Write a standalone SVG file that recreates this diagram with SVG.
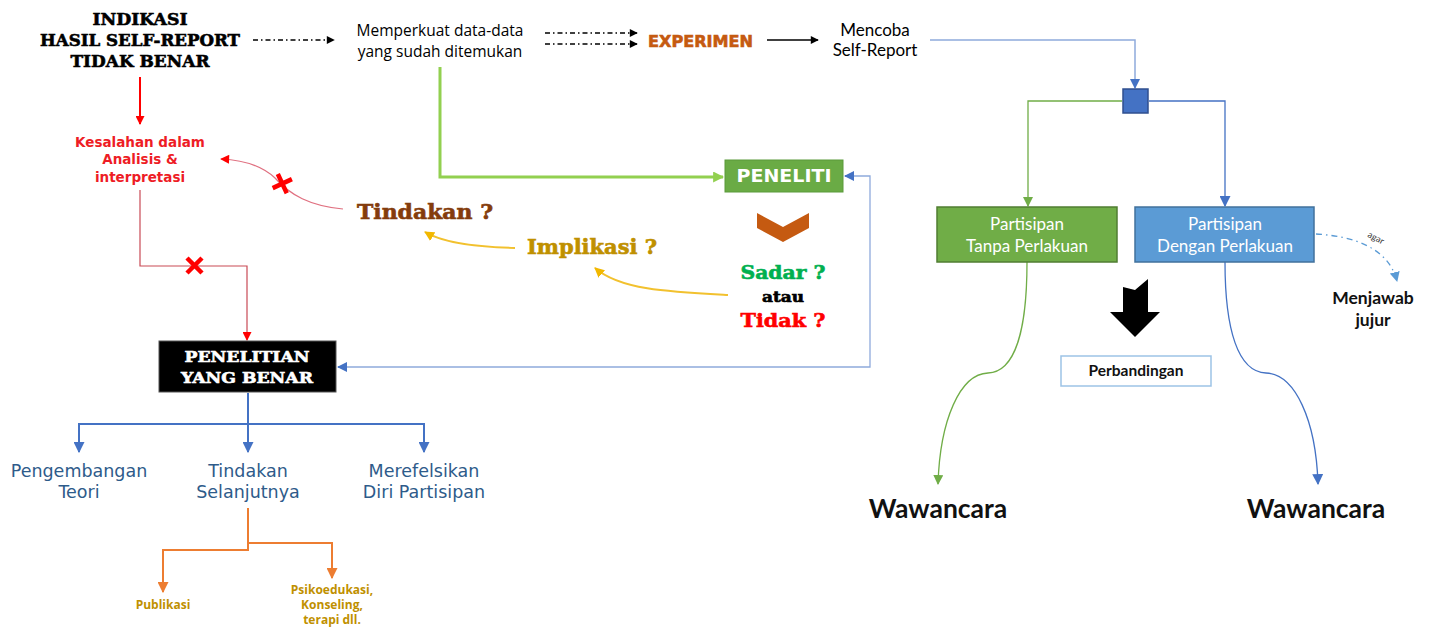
<svg xmlns="http://www.w3.org/2000/svg" width="1451" height="627" viewBox="0 0 1451 627">
<style>
.hs{font-family:"DejaVu Serif","Liberation Serif",serif;font-weight:bold;stroke-width:0.6;}
.sans{font-family:"Open Sans","Liberation Sans",sans-serif;}
.lato{font-family:Lato,"Open Sans",sans-serif;}
.dv{font-family:"DejaVu Sans","Liberation Sans",sans-serif;}
.c{text-anchor:middle;}
.tree{font-family:"DejaVu Sans","Liberation Sans",sans-serif;font-size:17.5px;fill:#2e5b8a;text-anchor:middle;}
.sub{font-family:"Open Sans","Liberation Sans",sans-serif;font-weight:bold;font-size:12px;fill:#bf9000;text-anchor:middle;}
.box{font-family:Lato,"Open Sans",sans-serif;font-size:17px;fill:#ffffff;text-anchor:middle;}
</style>
<defs>
<marker id="aK" viewBox="0 0 10 10" refX="9" refY="5" markerWidth="9" markerHeight="8" markerUnits="userSpaceOnUse" orient="auto"><path d="M0,0 L10,5 L0,10 z" fill="#000"/></marker>
<marker id="aR" viewBox="0 0 10 10" refX="9" refY="5" markerWidth="10" markerHeight="9" markerUnits="userSpaceOnUse" orient="auto"><path d="M0,0 L10,5 L0,10 z" fill="#ff0000"/></marker>
<marker id="aGL" viewBox="0 0 10 10" refX="9" refY="5" markerWidth="11" markerHeight="11" markerUnits="userSpaceOnUse" orient="auto"><path d="M0,0 L10,5 L0,10 z" fill="#92d050"/></marker>
<marker id="aLB" viewBox="0 0 10 10" refX="9" refY="5" markerWidth="10" markerHeight="10" markerUnits="userSpaceOnUse" orient="auto"><path d="M0,0 L10,5 L0,10 z" fill="#4472c4"/></marker>
<marker id="aB" viewBox="0 0 10 10" refX="9" refY="5" markerWidth="11" markerHeight="11" markerUnits="userSpaceOnUse" orient="auto"><path d="M0,0 L10,5 L0,10 z" fill="#4472c4"/></marker>
<marker id="aO" viewBox="0 0 10 10" refX="9" refY="5" markerWidth="11" markerHeight="11" markerUnits="userSpaceOnUse" orient="auto"><path d="M0,0 L10,5 L0,10 z" fill="#ed7d31"/></marker>
<marker id="aY" viewBox="0 0 10 10" refX="9" refY="5" markerWidth="10" markerHeight="10" markerUnits="userSpaceOnUse" orient="auto"><path d="M0,0 L10,5 L0,10 z" fill="#f2b800"/></marker>
<marker id="aG" viewBox="0 0 10 10" refX="9" refY="5" markerWidth="10" markerHeight="10" markerUnits="userSpaceOnUse" orient="auto"><path d="M0,0 L10,5 L0,10 z" fill="#70ad47"/></marker>
<marker id="aS" viewBox="0 0 10 10" refX="9" refY="5" markerWidth="10" markerHeight="10" markerUnits="userSpaceOnUse" orient="auto"><path d="M0,0 L10,5 L0,10 z" fill="#5b9bd5"/></marker>
</defs>
<rect width="1451" height="627" fill="#ffffff"/>

<g id="connectors" fill="none">
  <path d="M253,40 L334,40" stroke="#000" stroke-width="1.3" stroke-dasharray="5 3 1.5 3" marker-end="url(#aK)"/>
  <path d="M545,33 L637,33" stroke="#000" stroke-width="1.3" stroke-dasharray="5 3 1.5 3" marker-end="url(#aK)"/>
  <path d="M545,44 L637,44" stroke="#000" stroke-width="1.3" stroke-dasharray="5 3 1.5 3" marker-end="url(#aK)"/>
  <path d="M767,40 L818,40" stroke="#000" stroke-width="1.3" marker-end="url(#aK)"/>
  <path d="M930,40 L1135,40 L1135,88" stroke="#8faadc" stroke-width="1.5" marker-end="url(#aLB)"/>
  <path d="M1122,101 L1028,101 L1028,206" stroke="#70ad47" stroke-width="1.3" marker-end="url(#aG)"/>
  <path d="M1149,101 L1225,101 L1225,206" stroke="#4472c4" stroke-width="1.3" marker-end="url(#aB)"/>
  <path d="M1027,262 C1027,330 1015,372 988,373 C960,374 940,420 938,484" stroke="#70ad47" stroke-width="1.3" marker-end="url(#aG)"/>
  <path d="M1225,262 C1225,330 1238,372 1266,373 C1295,374 1316,420 1318,484" stroke="#4472c4" stroke-width="1.3" marker-end="url(#aB)"/>
  <path d="M1316,234 C1350,236 1388,246 1397,281" stroke="#5b9bd5" stroke-width="1.3" stroke-dasharray="6 4 1.5 4" marker-end="url(#aS)"/>
  <path d="M440,67 L440,177 L723,177" stroke="#92d050" stroke-width="3" marker-end="url(#aGL)"/>
  <path d="M845,176 L870,176 L870,367 L338,367" stroke="#8faadc" stroke-width="1.3"/>
  <path d="M850,176 L845,176" stroke="#4472c4" stroke-width="1.3" marker-end="url(#aLB)"/>
  <path d="M345,367 L338,367" stroke="#4472c4" stroke-width="1.3" marker-end="url(#aLB)"/>
  <path d="M140,77 L140,124" stroke="#ff0000" stroke-width="2" marker-end="url(#aR)"/>
  <path d="M140,190 L140,266 L247,266 L247,340" stroke="#c94a55" stroke-width="1.2" marker-end="url(#aR)"/>
  <path d="M343,209 C310,206 290,195 275,178 C262,166 245,160 221,159" stroke="#e07080" stroke-width="1.2" marker-end="url(#aR)"/>
  <path d="M515,248 C480,247 445,244 425,232" stroke="#f2c12e" stroke-width="2" marker-end="url(#aY)"/>
  <path d="M728,295 C670,292 620,290 595,268" stroke="#f2c12e" stroke-width="2" marker-end="url(#aY)"/>
  <path d="M248,393 L248,452" stroke="#4472c4" stroke-width="2" marker-end="url(#aB)"/>
  <path d="M248,424 L79,424 L79,452" stroke="#4472c4" stroke-width="2" marker-end="url(#aB)"/>
  <path d="M248,424 L424,424 L424,452" stroke="#4472c4" stroke-width="2" marker-end="url(#aB)"/>
  <path d="M248,508 L248,550 L163,550 L163,592" stroke="#ed7d31" stroke-width="2" marker-end="url(#aO)"/>
  <path d="M248,543 L332,543 L332,578" stroke="#ed7d31" stroke-width="2" marker-end="url(#aO)"/>
</g>

<g id="x-marks" stroke="#ff0000" stroke-width="4.5" stroke-linecap="butt">
  <path d="M275,176 L290,191 M290,176 L275,191" transform="rotate(20 282 183)"/>
  <path d="M187,258 L202,273 M202,258 L187,273"/>
</g>

<g id="indikasi">
  <text class="hs c" x="140" y="25" font-size="16.5" fill="#000" stroke="#000" textLength="95" lengthAdjust="spacingAndGlyphs">INDIKASI</text>
  <text class="hs c" x="140" y="46" font-size="16.5" fill="#000" stroke="#000" textLength="200" lengthAdjust="spacingAndGlyphs">HASIL SELF-REPORT</text>
  <text class="hs c" x="140" y="67" font-size="16.5" fill="#000" stroke="#000" textLength="139" lengthAdjust="spacingAndGlyphs">TIDAK BENAR</text>
</g>
<g id="memperkuat">
  <text class="sans c" x="440" y="36" font-size="15.5" fill="#000">Memperkuat data-data</text>
  <text class="sans c" x="440" y="57" font-size="15.5" fill="#000">yang sudah ditemukan</text>
</g>
<g id="experimen">
  <text class="dv" x="648" y="47" font-size="16" font-weight="bold" fill="#c55a11" stroke="#c55a11" stroke-width="0.6" textLength="105" lengthAdjust="spacingAndGlyphs">EXPERIMEN</text>
</g>
<g id="mencoba">
  <text class="lato c" x="875" y="36" font-size="17" fill="#000">Mencoba</text>
  <text class="lato c" x="875" y="56" font-size="17" fill="#000">Self-Report</text>
</g>
<g id="kesalahan">
  <text class="dv c" x="140" y="147" font-size="13.5" font-weight="bold" fill="#ee1c25">Kesalahan dalam</text>
  <text class="dv c" x="140" y="164" font-size="13.5" font-weight="bold" fill="#ee1c25">Analisis &amp;</text>
  <text class="dv c" x="140" y="182" font-size="13.5" font-weight="bold" fill="#ee1c25">interpretasi</text>
</g>
<g id="tindakan">
  <text class="hs" x="357" y="219" font-size="21" fill="#843c0c" stroke="#843c0c" textLength="136" lengthAdjust="spacingAndGlyphs">Tindakan ?</text>
</g>
<g id="implikasi">
  <text class="hs" x="527" y="254" font-size="20" fill="#bf9000" stroke="#bf9000" textLength="130" lengthAdjust="spacingAndGlyphs">Implikasi ?</text>
</g>
<g id="peneliti">
  <rect x="725" y="160" width="118" height="32" fill="#6aab45" stroke="#5a9a3a" stroke-width="1"/>
  <text class="dv c" x="784" y="182" font-size="17" font-weight="bold" fill="#ffffff" textLength="95" lengthAdjust="spacingAndGlyphs">PENELITI</text>
</g>
<g id="chevron">
  <path d="M757,213 L783,227 L809,213 L809,228 L783,242 L757,228 Z" fill="#c55a11"/>
</g>
<g id="sadar">
  <text class="hs c" x="783" y="279" font-size="19" fill="#00b050" stroke="#00b050" textLength="85" lengthAdjust="spacingAndGlyphs">Sadar ?</text>
  <text class="hs c" x="783" y="302" font-size="14" fill="#000" stroke="#000" textLength="42" lengthAdjust="spacingAndGlyphs">atau</text>
  <text class="hs c" x="783" y="327" font-size="19" fill="#ff0000" stroke="#ff0000" textLength="85" lengthAdjust="spacingAndGlyphs">Tidak ?</text>
</g>
<g id="penelitian-benar">
  <rect x="159" y="341" width="177" height="51" fill="#000" stroke="#555" stroke-width="1"/>
  <text class="hs c" x="247" y="362" font-size="15" fill="#ffffff" stroke="#ffffff" stroke-width="0.4" textLength="125" lengthAdjust="spacingAndGlyphs">PENELITIAN</text>
  <text class="hs c" x="247" y="383" font-size="15" fill="#ffffff" stroke="#ffffff" stroke-width="0.4" textLength="132" lengthAdjust="spacingAndGlyphs">YANG BENAR</text>
</g>
<g id="pengembangan">
  <text class="tree" x="79" y="477">Pengembangan</text>
  <text class="tree" x="79" y="498">Teori</text>
</g>
<g id="tindakan-selanjutnya">
  <text class="tree" x="248" y="477">Tindakan</text>
  <text class="tree" x="248" y="498">Selanjutnya</text>
</g>
<g id="merefelsikan">
  <text class="tree" x="424" y="477">Merefelsikan</text>
  <text class="tree" x="424" y="498">Diri Partisipan</text>
</g>
<g id="publikasi">
  <text class="sub" x="163" y="609">Publikasi</text>
</g>
<g id="psikoedukasi">
  <text class="sub" x="332" y="594">Psikoedukasi,</text>
  <text class="sub" x="332" y="609">Konseling,</text>
  <text class="sub" x="332" y="624">terapi dll.</text>
</g>
<g id="junction">
  <rect x="1123" y="89" width="25" height="24" fill="#4472c4" stroke="#2f4f8f" stroke-width="1.5"/>
</g>
<g id="tanpa-perlakuan">
  <rect x="937" y="207" width="180" height="55" fill="#70ad47" stroke="#507e32" stroke-width="1.5"/>
  <text class="box" x="1027" y="230">Partisipan</text>
  <text class="box" x="1027" y="252">Tanpa Perlakuan</text>
</g>
<g id="dengan-perlakuan">
  <rect x="1135" y="207" width="179" height="55" fill="#5b9bd5" stroke="#41719c" stroke-width="1.5"/>
  <text class="box" x="1225" y="230">Partisipan</text>
  <text class="box" x="1225" y="252">Dengan Perlakuan</text>
</g>
<g id="agar">
  <text class="lato" x="1367" y="239" font-size="9" fill="#333" transform="rotate(28 1372 238)">agar</text>
</g>
<g id="menjawab">
  <text class="lato c" x="1373" y="304" font-size="17.5" font-weight="bold" fill="#111">Menjawab</text>
  <text class="lato c" x="1373" y="326" font-size="17.5" font-weight="bold" fill="#111">jujur</text>
</g>
<g id="big-arrow">
  <path d="M1123,287 L1135,290 L1148,279 L1148,312 L1160,312 L1135,337 L1110,312 L1123,312 Z" fill="#000"/>
</g>
<g id="perbandingan">
  <rect x="1061" y="356" width="150" height="30" fill="#fff" stroke="#9dc3e6" stroke-width="1.5"/>
  <text class="lato c" x="1136" y="376" font-size="15.5" font-weight="bold" fill="#111">Perbandingan</text>
</g>
<g id="wawancara-1">
  <text class="lato c" x="938" y="518" font-size="26.5" font-weight="bold" fill="#111">Wawancara</text>
</g>
<g id="wawancara-2">
  <text class="lato c" x="1316" y="518" font-size="26.5" font-weight="bold" fill="#111">Wawancara</text>
</g>
</svg>
